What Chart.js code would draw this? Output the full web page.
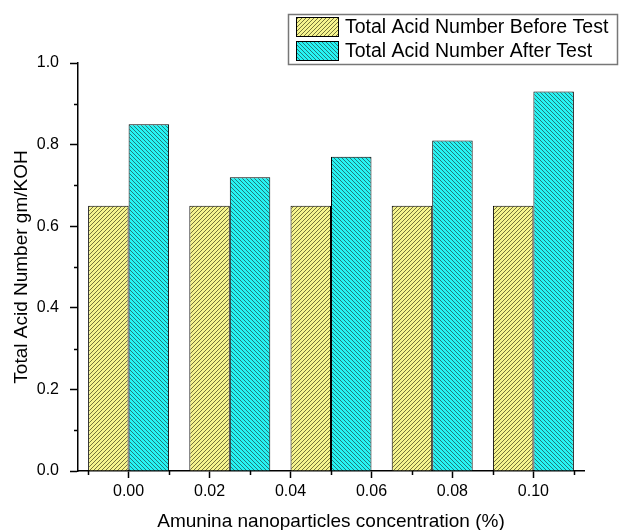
<!DOCTYPE html>
<html lang="en">
<head>
    <meta charset="UTF-8">
    <title>Total Acid Number</title>
    <script src="https://cdn.jsdelivr.net/npm/chart.js@4.4.0/dist/chart.umd.min.js"></script>
    <style>
        html, body { margin: 0; padding: 0; background: #fff; }
        #wrap { width: 621px; height: 530px; }
    </style>
</head>
<body>
<div id="wrap"><canvas id="myChart" width="621" height="530"></canvas></div>
<script>
// data
var groups = ['g1', 'g2', 'g3', 'g4', 'g5'];
var seriesNames = ['Total Acid Number Before Test', 'Total Acid Number After Test'];
var beforeTest = [0.65, 0.65, 0.65, 0.65, 0.65];
var afterTest = [0.85, 0.72, 0.77, 0.81, 0.93];
var xTickValues = [0.00, 0.02, 0.04, 0.06, 0.08, 0.10];
var yTickValues = [0.0, 0.2, 0.4, 0.6, 0.8, 1.0];

var FONT = 'Liberation Sans, Arial, sans-serif';

// hatched fill, '/' or '\'
function hatch(bg, line, dir) {
    var s = 4;
    var c = document.createElement('canvas');
    c.width = s; c.height = s;
    var g = c.getContext('2d');
    g.fillStyle = bg;
    g.fillRect(0, 0, s, s);
    g.strokeStyle = line;
    g.lineWidth = 1;
    g.beginPath();
    if (dir === '/') {
        g.moveTo(0, s); g.lineTo(s, 0);
        g.moveTo(-1, 1); g.lineTo(1, -1);
        g.moveTo(s - 1, s + 1); g.lineTo(s + 1, s - 1);
    } else {
        g.moveTo(0, 0); g.lineTo(s, s);
        g.moveTo(-1, s - 1); g.lineTo(1, s + 1);
        g.moveTo(s - 1, -1); g.lineTo(s + 1, 1);
    }
    g.stroke();
    return document.getElementById('myChart').getContext('2d').createPattern(c, 'repeat');
}

var yellowFill = hatch('#f6f48e', '#75753c', '/');
var cyanFill = hatch('#26f4f4', '#237a7a', '\\');

// minor ticks halfway between the major ones
var minorTicks = {
    id: 'minorTicks',
    afterDraw: function(chart) {
        var ctx = chart.ctx;
        var xs = chart.scales.x2, ys = chart.scales.y;
        var a = chart.chartArea;
        ctx.save();
        ctx.strokeStyle = '#000';
        ctx.lineWidth = 1.5;
        ctx.beginPath();
        for (var v = -0.01; v <= 0.1101; v += 0.02) {
            var px = Math.round(xs.getPixelForValue(v)) + 0.5;
            ctx.moveTo(px, a.bottom); ctx.lineTo(px, a.bottom + 4);
        }
        for (var w = 0.1; w < 1.0; w += 0.2) {
            var py = Math.round(ys.getPixelForValue(w)) + 0.5;
            ctx.moveTo(a.left, py); ctx.lineTo(a.left - 4, py);
        }
        ctx.stroke();
        ctx.restore();
    }
};

// boxed legend in the top right corner
var boxLegend = {
    id: 'boxLegend',
    afterDraw: function(chart) {
        var ctx = chart.ctx;
        var ds = chart.data.datasets;
        var left = 288, top = 14, w = 329, rowH = 24;
        ctx.save();
        ctx.strokeStyle = '#777';
        ctx.lineWidth = 1.5;
        ctx.strokeRect(left + 0.5, top + 0.5, w, rowH * ds.length + 2);
        ctx.font = '19.5px ' + FONT;
        ctx.textBaseline = 'middle';
        ds.forEach(function(d, i) {
            var y = top + 3 + i * rowH;
            ctx.fillStyle = d.backgroundColor;
            ctx.fillRect(296, y, 43, rowH - 4);
            ctx.strokeStyle = '#000';
            ctx.lineWidth = 1;
            ctx.strokeRect(296.5, y + 0.5, 42, rowH - 5);
            ctx.fillStyle = '#000';
            ctx.fillText(d.label, 345, y + (rowH - 4) / 2 + 1);
        });
        ctx.restore();
    }
};

var ctx = document.getElementById('myChart').getContext('2d');
new Chart(ctx, {
    type: 'bar',
    data: {
        labels: groups,
        datasets: [
            { label: seriesNames[0], data: beforeTest, backgroundColor: yellowFill, borderColor: '#000', borderWidth: 1 },
            { label: seriesNames[1], data: afterTest, backgroundColor: cyanFill, borderColor: '#000', borderWidth: 1 }
        ]
    },
    options: {
        responsive: false,
        animation: false,
        layout: { padding: { top: 63, right: 37, left: 10, bottom: 0 } },
        plugins: { legend: { display: false }, tooltip: { enabled: false } },
        datasets: { bar: { categoryPercentage: 0.8, barPercentage: 1.0 } },
        scales: {
            x: { display: false },
            x2: {
                type: 'linear',
                position: 'bottom',
                offset: false,
                min: -0.0125,
                max: 0.1125,
                afterBuildTicks: function(axis) {
                    axis.ticks = xTickValues.map(function(v) { return { value: v }; });
                },
                afterFit: function(axis) { axis.height = 59; },
                border: { display: true, color: '#000', width: 1.5 },
                grid: { offset: false, drawOnChartArea: false, drawTicks: true, tickLength: 7, color: '#000', tickWidth: 1.5 },
                ticks: {
                    color: '#000',
                    font: { family: FONT, size: 16 },
                    padding: 4,
                    maxRotation: 0,
                    callback: function(v) { return v.toFixed(2); }
                },
                title: {
                    display: true,
                    text: 'Amunina nanoparticles concentration (%)',
                    color: '#000',
                    font: { family: FONT, size: 19 },
                    padding: { top: 8, bottom: -3 }
                }
            },
            y: {
                min: 0,
                max: 1.0,
                afterBuildTicks: function(axis) {
                    axis.ticks = yTickValues.map(function(v) { return { value: v }; });
                },
                afterFit: function(axis) { axis.width = 68; },
                border: { display: true, color: '#000', width: 1.5 },
                grid: { drawOnChartArea: false, drawTicks: true, tickLength: 8, color: '#000', tickWidth: 1.5 },
                ticks: {
                    color: '#000',
                    font: { family: FONT, size: 16 },
                    padding: 11,
                    callback: function(v) { return v.toFixed(1); }
                },
                title: {
                    display: true,
                    text: 'Total Acid Number gm/KOH',
                    color: '#000',
                    font: { family: FONT, size: 19 },
                    padding: { top: 0, bottom: 4 }
                }
            }
        }
    },
    plugins: [minorTicks, boxLegend]
});
</script>
</body>
</html>
